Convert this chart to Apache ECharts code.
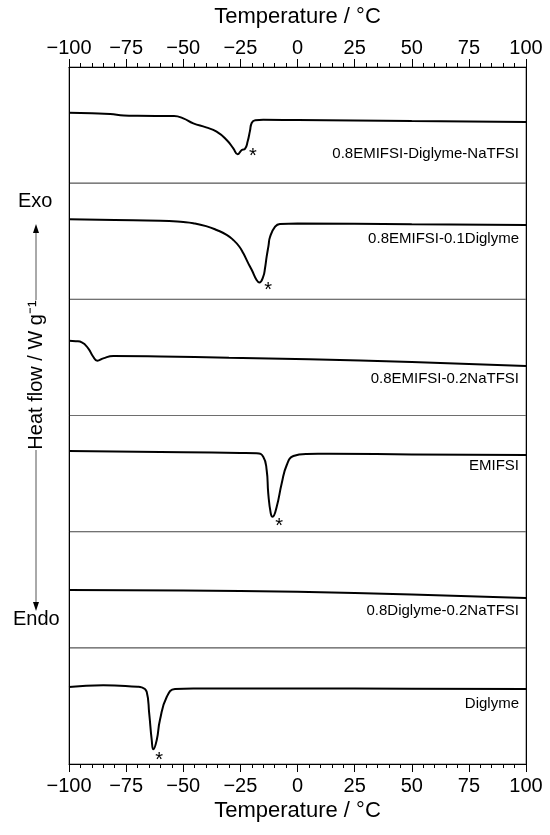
<!DOCTYPE html>
<html>
<head>
<meta charset="utf-8">
<script src="https://cdn.jsdelivr.net/npm/echarts@6/dist/echarts.min.js"></script>
<style>
  html, body { margin: 0; padding: 0; background: #fff; }
  #chart { width: 550px; height: 835px; }
</style>
</head>
<body>
<div id="chart"></div>
<script>
// DSC traces, temperature in °C and heat flow in arbitrary panel units (0 = panel bottom, 100 = panel top)
var sampleNames = ['0.8EMIFSI-Diglyme-NaTFSI', '0.8EMIFSI-0.1Diglyme', '0.8EMIFSI-0.2NaTFSI', 'EMIFSI', '0.8Diglyme-0.2NaTFSI', 'Diglyme'];

var mixT = [-100, -90, -82, -76, -70, -54, -50, -45.6, -40, -35.4, -31, -28.1, -26.2, -24.4, -23, -21.8, -20.8, -20, -18.5, -15, 0, 50, 100];
var mixV = [60.7, 60.2, 59.6, 58.3, 58.0, 57.8, 55.8, 51.5, 48, 44.3, 37.2, 30, 24.9, 28.6, 29.5, 36, 45, 52, 54.2, 54.5, 54.3, 53.6, 52.7];

var ilDiglymeT = [-100, -80, -60, -50, -45.6, -40, -35.4, -31, -28.1, -25.5, -23.7, -21.8, -20, -17.9, -16.7, -15, -14.2, -13.5, -12.7, -12, -9.8, -7.7, 0, 50, 100];
var ilDiglymeV = [68.9, 68.3, 67.7, 66.5, 65.5, 63, 59.7, 55.5, 51.1, 45.5, 39.6, 32, 25.2, 16.6, 14.6, 19.5, 27, 36.7, 46, 53.9, 62.5, 64.9, 65.2, 64.6, 64.0];

var ilSaltT = [-100, -97, -94.4, -91.6, -89.4, -87.6, -85, -80.6, -60, -30, 5, 50, 100];
var ilSaltV = [64.4, 64.0, 63.0, 57.8, 50.6, 47.2, 49.2, 51.2, 50.8, 49.7, 48.4, 46, 42.6];

var emifsiT = [-100, -50, -25, -17.9, -15, -13.5, -12.8, -11.7, -10.9, -9.1, -6.9, -4.7, -1.8, 4, 14, 50, 100];
var emifsiV = [69.4, 68.3, 67.8, 67.5, 64.5, 53.1, 33, 15.8, 12.9, 21.5, 41.7, 57.4, 65.1, 66.9, 67, 66.5, 66.0];

var diglymeSaltT = [-100, -50, 0, 50, 100];
var diglymeSaltV = [49.8, 49.4, 48.2, 46, 43.0];

var diglymeT = [-100, -85, -70, -68.2, -66, -64.9, -63.8, -63.1, -61.6, -60.2, -57.2, -53.6, -45.6, 0, 50, 100];
var diglymeV = [66.4, 67.7, 66.5, 66.0, 62.2, 43.6, 20.7, 12.7, 20.7, 37.9, 57.9, 64.5, 65.1, 65.0, 64.8, 64.5];

// asterisks marking the melting peaks (null = none)
var starMarks = [[-19.5, 27.7], [-12.8, 12.3], null, [-8.0, 9.2], null, [-60.5, 7.7]];

var traces = [[mixT, mixV], [ilDiglymeT, ilDiglymeV], [ilSaltT, ilSaltV], [emifsiT, emifsiV], [diglymeSaltT, diglymeSaltV], [diglymeT, diglymeV]];

var font = 'Liberation Sans, Arial, sans-serif';
var plotLeft = 69, plotWidth = 457, plotTop = 67, panelH = 116.17;
var labelTops = [88, 57, 81, 51.5, 81, 58];

var chart = echarts.init(document.getElementById('chart'));

function fmt(v) { return v < 0 ? '\u2212' + Math.abs(v) : String(v); }

var grids = [], xAxes = [], yAxes = [], series = [], titles = [];
traces.forEach(function (tr, i) {
    grids.push({
        left: plotLeft, width: plotWidth, top: plotTop + i * panelH, height: panelH,
        show: true, borderColor: '#6e6e6e', borderWidth: 1, backgroundColor: 'transparent'
    });
    var isTop = i === 0, isBottom = i === traces.length - 1;
    xAxes.push({
        type: 'value', gridIndex: i, min: -100, max: 100, interval: 25,
        position: isTop ? 'top' : 'bottom',
        show: isTop || isBottom,
        name: 'Temperature / \u00B0C', nameLocation: 'middle', nameGap: isTop ? 39 : 36,
        nameTextStyle: { fontFamily: font, fontSize: 22, color: '#000' },
        axisLine: { show: true, onZero: false, lineStyle: { color: '#000', width: 1 } },
        axisTick: { show: true, inside: false, length: 8, lineStyle: { color: '#000' } },
        minorTick: { show: true, splitNumber: 5, length: 4, lineStyle: { color: '#000' } },
        axisLabel: { fontFamily: font, fontSize: 20, color: '#000', margin: isTop ? 9 : 12, formatter: fmt },
        splitLine: { show: false }
    });
    ['left', 'right'].forEach(function (pos) {
        yAxes.push({
            type: 'value', gridIndex: i, min: 0, max: 100, position: pos,
            axisLine: { show: true, onZero: false, lineStyle: { color: '#000', width: 1 } },
            axisTick: { show: false }, axisLabel: { show: false }, splitLine: { show: false }
        });
    });
    var s = {
        name: sampleNames[i], type: 'line', xAxisIndex: i, yAxisIndex: i * 2,
        data: tr[0].map(function (t, k) { return [t, tr[1][k]]; }),
        showSymbol: false, smooth: 0.5,
        lineStyle: { color: '#000', width: 2 }, silent: true, animation: false
    };
    if (starMarks[i]) {
        s.markPoint = {
            symbol: 'circle', symbolSize: 0, animation: false,
            label: { show: true, formatter: '*', fontFamily: font, fontSize: 20, color: '#000', offset: [0, 5] },
            data: [{ coord: starMarks[i] }]
        };
    }
    series.push(s);
    titles.push({
        text: sampleNames[i], right: 31, top: plotTop + i * panelH + labelTops[i] - 9, padding: 0,
        textStyle: { fontFamily: font, fontSize: 15, fontWeight: 'normal', color: '#000' }
    });
});

var option = {
    backgroundColor: '#fff',
    animation: false,
    title: titles,
    grid: grids,
    xAxis: xAxes,
    yAxis: yAxes,
    series: series,
    graphic: [
        { type: 'text', left: 18, top: 191, style: { text: 'Exo', font: '20px ' + font, fill: '#000' } },
        { type: 'text', left: 13, top: 609, style: { text: 'Endo', font: '20px ' + font, fill: '#000' } },
        { type: 'line', shape: { x1: 36, y1: 300, x2: 36, y2: 230 }, style: { stroke: '#555', lineWidth: 1 } },
        { type: 'polygon', shape: { points: [[36, 224], [33, 233], [39, 233]] }, style: { fill: '#000' } },
        { type: 'line', shape: { x1: 36, y1: 450, x2: 36, y2: 604 }, style: { stroke: '#555', lineWidth: 1 } },
        { type: 'polygon', shape: { points: [[36, 611], [33, 602], [39, 602]] }, style: { fill: '#000' } },
        {
            type: 'text', x: 36, y: 375, rotation: Math.PI / 2,
            style: { text: 'Heat flow / W g\u207B\u00B9', font: '20px ' + font, fill: '#000', align: 'center', verticalAlign: 'middle' }
        }
    ]
};
chart.setOption(option);
</script>
</body>
</html>
